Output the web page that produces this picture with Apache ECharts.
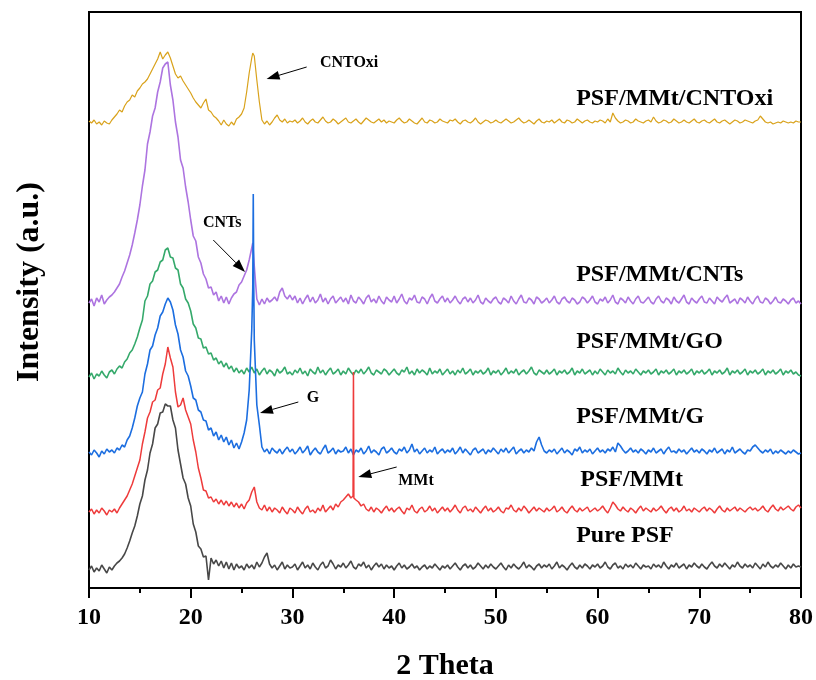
<!DOCTYPE html>
<html>
<head>
<meta charset="utf-8">
<script src="https://cdn.jsdelivr.net/npm/echarts@6/dist/echarts.min.js"></script>
<style>html,body{margin:0;padding:0;background:#fff}#c{width:816px;height:680px}</style>
</head>
<body>
<div id="c"></div>
<script>
// ---------- DATA (intensity in a.u., 2-theta sampled from 10 to 80 every 0.25 deg) ----------
const thetaTicks = [10, 20, 30, 40, 50, 60, 70, 80];
const sampleNames = ['PSF/MMt/CNTOxi', 'PSF/MMt/CNTs', 'PSF/MMt/GO', 'PSF/MMt/G', 'PSF/MMt', 'Pure PSF'];
const peakNames = ['CNTOxi', 'CNTs', 'G', 'MMt'];

const cntoxi = [
467,465,468,464,466,463,467,465,464,468,471,474,478,476,482,486,488,493,491,497,
500,504,506,509,514,519,524,529,536,529,533,536,530,522,514,510,512,507,503,499,
495,490,486,483,480,485,489,478,476,472,470,467,463,468,464,462,466,463,469,471,
474,480,496,515,530,532,508,486,468,464,467,463,466,470,473,468,466,469,465,467,
466,468,465,467,470,466,464,467,469,466,465,468,471,467,465,466,469,467,464,466,
468,470,466,465,467,469,466,464,467,470,468,466,465,467,469,466,468,465,467,466,
465,468,470,467,465,466,469,467,465,464,467,470,466,465,468,467,465,466,469,467,
466,465,468,467,469,466,464,467,468,466,465,467,470,466,464,466,468,467,465,466,
468,466,465,467,469,467,465,466,468,470,467,465,466,468,466,464,467,469,466,465,
467,466,468,465,467,469,466,465,468,467,465,466,469,467,465,467,468,466,465,467,
466,468,467,465,469,466,475,470,467,465,466,468,467,465,466,469,467,466,465,467,
468,466,471,467,465,466,468,467,465,466,469,467,465,466,468,466,465,467,469,466,
465,467,468,466,465,467,469,466,465,467,468,466,464,466,468,467,465,466,468,467,
466,465,467,468,472,469,466,465,466,464,465,466,465,467,466,465,466,465,467,466,466];
const cntoxiPeaks = [[26.1, 535]];

const cnts = [
285,289,282,290,286,293,284,288,291,293,296,300,304,311,317,325,333,343,355,368,
383,402,418,444,456,472,480,496,506,520,524,526,503,488,466,451,428,420,401,386,
368,352,347,331,325,314,309,300,301,293,296,287,292,285,291,284,290,294,296,303,
306,312,318,328,340,322,289,283,289,284,290,286,288,291,287,296,300,292,289,293,
288,292,285,290,284,289,293,286,291,285,288,294,286,290,284,289,292,285,288,291,
286,290,284,293,287,285,291,288,284,290,293,286,289,285,292,287,284,291,288,286,
292,285,289,294,287,284,290,288,293,286,285,291,289,284,290,294,287,285,289,292,
286,290,285,288,292,287,284,289,291,286,290,285,288,293,286,284,290,287,285,289,
291,286,284,290,288,285,292,287,284,289,293,286,285,290,288,284,291,289,285,287,
290,285,288,292,286,284,289,291,287,285,290,288,284,286,291,289,285,288,292,286,
284,289,287,291,285,288,293,286,284,290,288,285,291,287,284,289,292,286,285,288,
291,286,284,289,292,287,285,290,288,284,291,287,285,289,293,286,284,290,287,285,
289,292,286,285,290,287,284,291,288,286,290,293,285,287,289,284,290,288,285,291,
287,284,289,292,286,285,290,288,284,287,291,286,285,289,287,284,288,290,285,287,284];
const cntsPeaks = [[26.1, 345]];

const go = [
211,215,209,214,212,217,213,210,216,218,214,219,222,220,226,229,235,238,244,251,
260,268,287,292,304,307,316,318,326,328,338,340,331,330,320,318,304,300,289,285,
277,264,260,250,249,240,241,234,235,228,230,224,227,221,225,219,222,216,220,215,
218,214,220,216,221,215,219,213,217,220,214,218,216,212,219,215,217,221,214,216,
213,218,215,220,214,217,212,219,216,214,221,215,218,213,217,220,214,216,219,213,
217,214,220,216,213,218,215,219,214,217,221,215,213,218,216,214,219,217,213,216,
219,215,213,218,216,221,214,217,213,219,215,218,216,213,220,214,217,215,219,213,
216,219,214,217,213,218,215,220,214,216,219,213,217,215,218,214,216,220,213,217,
215,218,213,216,220,214,217,215,219,213,216,218,214,217,221,215,213,218,216,214,
218,214,216,219,213,217,215,218,214,216,220,213,217,215,219,214,216,218,213,217,
214,219,216,213,218,215,217,214,220,216,213,218,215,217,214,219,216,213,217,215,
218,214,216,219,213,217,215,218,214,216,219,213,217,215,218,214,216,219,213,217,
215,218,214,216,219,213,217,215,218,214,216,220,213,217,215,218,214,216,219,213,
217,215,218,214,216,219,213,217,215,218,214,216,219,213,217,215,218,214,216,213,212];

const graphene = [
136,133,138,135,131,137,134,139,136,138,135,140,138,143,141,148,152,160,170,182,
190,196,214,224,238,242,253,260,272,276,284,290,286,278,263,254,238,231,217,212,
202,190,188,178,176,168,167,158,160,152,156,148,153,146,151,143,148,140,145,139,
146,155,168,198,258,248,183,163,141,136,139,134,140,137,135,139,134,138,141,136,
139,134,137,141,135,138,142,133,137,140,136,134,139,143,135,137,140,134,138,136,
137,141,135,139,133,138,136,140,134,137,142,135,138,136,133,139,141,135,137,140,
136,134,139,137,141,135,138,144,136,139,134,137,140,135,138,136,141,134,137,139,
135,138,136,140,134,137,141,135,139,136,133,138,140,135,137,139,134,138,136,140,
137,134,139,136,140,135,138,141,134,137,139,135,138,136,140,137,146,151,143,137,
135,138,136,139,134,137,140,135,138,136,133,139,137,141,135,138,136,139,134,137,
140,136,138,135,139,137,141,136,145,142,138,135,137,140,136,138,135,139,137,134,
138,136,140,135,137,139,134,138,141,136,137,135,139,136,138,134,137,140,136,138,
135,139,137,134,138,136,140,135,137,139,134,138,136,141,135,137,139,136,134,138,
137,141,143,140,137,135,138,136,139,134,137,135,138,136,134,137,135,138,136,134,135];
const graphenePeaks = [[26.1, 300], [26.15, 394], [26.2, 300]];

const mmt = [
76,79,74,78,75,80,77,73,78,76,79,75,80,84,88,92,98,104,112,120,
128,144,156,170,176,186,188,198,200,214,224,241,230,221,196,181,183,190,178,171,
164,148,136,120,110,98,97,90,91,86,89,84,88,83,87,82,86,81,85,80,
84,79,85,88,96,101,86,80,78,83,77,81,76,80,78,75,81,77,74,80,
78,75,81,77,74,79,82,76,78,75,80,77,83,76,79,82,78,84,81,86,
88,91,94,90,216,88,86,82,84,79,77,81,76,80,78,75,79,82,77,80,
76,79,81,77,74,80,78,83,77,75,79,81,76,78,82,77,80,75,78,81,
77,80,76,79,83,78,75,80,82,77,79,76,81,78,75,79,82,77,80,76,
78,81,77,75,80,79,83,78,76,80,77,82,79,75,78,81,77,80,78,76,
80,77,79,82,76,78,81,77,75,79,82,78,76,80,77,79,81,76,78,80,
77,79,82,78,75,80,86,83,79,77,81,78,76,80,78,75,79,82,77,80,
78,76,80,77,79,82,78,75,79,81,77,80,76,78,82,77,79,76,80,78,
76,79,81,77,80,78,75,79,82,78,76,80,77,79,81,77,80,78,76,79,
81,78,80,77,79,82,78,76,80,83,79,77,81,78,80,82,79,77,81,83,80];
const mmtPeaks = [[35.96, 92], [36.04, 90]];

const purePsf = [
18,22,16,20,17,23,19,15,21,18,22,25,27,30,34,40,47,55,62,72,
84,92,108,118,135,144,160,164,175,176,184,182,182,168,160,138,124,110,104,90,
82,64,56,42,39,31,32,8,30,24,28,22,27,20,26,19,25,18,24,20,
22,18,24,20,23,19,26,21,25,31,35,24,20,23,18,22,26,19,23,20,
21,24,18,22,26,20,23,19,25,21,18,23,26,20,22,28,24,19,23,21,
25,20,23,27,21,19,24,22,26,20,23,18,22,25,21,24,19,23,20,22,
18,22,25,20,23,19,21,24,20,22,18,21,23,19,22,20,24,21,18,22,
20,23,19,22,25,21,18,22,24,20,23,19,21,25,22,19,23,20,24,21,
19,22,25,21,18,23,20,24,21,19,22,26,20,23,21,18,22,24,20,23,
21,24,19,22,26,20,23,21,18,22,25,21,19,23,20,24,22,19,23,21,
24,20,22,26,21,19,23,25,20,22,19,24,21,23,20,25,22,19,23,21,
22,19,24,21,23,20,26,22,19,23,21,25,20,22,24,19,23,21,25,22,
20,24,21,19,23,26,22,20,24,21,25,22,19,23,21,26,22,20,24,21,
23,20,25,22,19,24,21,26,22,20,23,21,25,22,19,23,20,24,21,22,21];

// ---------- LAYOUT / STYLE ----------
const thetaStart = 10, thetaStep = 0.25;
const FONT = "'Liberation Serif','Times New Roman',serif";
const colors = ['#D9A21B', '#AD74E0', '#35A96B', '#1C6EE0', '#EE3B3B', '#484848'];
const widths = [1.2, 1.6, 1.6, 1.6, 1.5, 1.6];
// positions of text annotations in data coordinates [theta, intensity]
const sampleLabelPos = [[57.9, 489], [57.9, 313], [57.9, 246], [57.9, 171], [58.3, 108], [57.9, 52]];
const peakLabelPos = [[32.7, 525.5], [21.2, 365.5], [31.4, 190.5], [40.4, 107]];
const arrowPos = [
  [[31.4, 521], [27.46, 509]],
  [[22.22, 348], [25.34, 316]],
  [[30.58, 186], [26.81, 175]],
  [[40.25, 121], [36.48, 111]]
];

function toPairs(vals, extras) {
  const pts = vals.map((v, i) => [thetaStart + i * thetaStep, v]);
  if (extras) pts.push(...extras);
  pts.sort((a, b) => a[0] - b[0]);
  return pts;
}

const seriesData = [
  toPairs(cntoxi, cntoxiPeaks),
  toPairs(cnts, cntsPeaks),
  toPairs(go),
  toPairs(graphene, graphenePeaks),
  toPairs(mmt, mmtPeaks),
  toPairs(purePsf)
];
// drawing order (bottom -> top)
const order = [0, 1, 2, 5, 3, 4];

const chart = echarts.init(document.getElementById('c'), null, {renderer: 'canvas'});
const option = {
  animation: false,
  backgroundColor: '#fff',
  grid: {left: 89, right: 15, top: 12, bottom: 92, show: true, borderColor: '#000', borderWidth: 2, backgroundColor: 'transparent'},
  xAxis: {
    type: 'value', min: 10, max: 80, interval: 10,
    axisLine: {show: true, onZero: false, lineStyle: {color: '#000', width: 2}},
    axisTick: {show: true, inside: false, length: 10, lineStyle: {color: '#000', width: 2}},
    minorTick: {show: true, splitNumber: 2, length: 5, lineStyle: {color: '#000', width: 2}},
    splitLine: {show: false},
    axisLabel: {
      margin: 18, color: '#000', fontFamily: FONT, fontWeight: 'bold', fontSize: 24,
      formatter: v => (thetaTicks.indexOf(v) >= 0 ? String(v) : '')
    }
  },
  yAxis: {
    type: 'value', min: 0, max: 576,
    axisLine: {show: true, lineStyle: {color: '#000', width: 2}},
    axisTick: {show: false}, axisLabel: {show: false}, splitLine: {show: false}
  },
  series: order.map(k => ({
    name: sampleNames[k], type: 'line', data: seriesData[k], showSymbol: false, symbol: 'none',
    z: 2, lineStyle: {color: colors[k], width: widths[k]}, itemStyle: {color: colors[k]}, sampling: null
  }))
};
chart.setOption(option);

// text + arrows positioned via the chart's own coordinate system
const g = [];
sampleNames.forEach((name, i) => {
  const p = chart.convertToPixel({gridIndex: 0}, sampleLabelPos[i]);
  g.push({type: 'text', x: p[0], y: p[1], z: 10,
    style: {text: name, font: "bold 24px " + FONT, fill: '#000', textAlign: 'left', textVerticalAlign: 'middle'}});
});
peakNames.forEach((name, i) => {
  const p = chart.convertToPixel({gridIndex: 0}, peakLabelPos[i]);
  g.push({type: 'text', x: p[0], y: p[1], z: 10,
    style: {text: name, font: "bold 16px " + FONT, fill: '#000', textAlign: 'left', textVerticalAlign: 'middle'}});
});
arrowPos.forEach(a => {
  const t = chart.convertToPixel({gridIndex: 0}, a[0]);
  const h = chart.convertToPixel({gridIndex: 0}, a[1]);
  const dx = h[0] - t[0], dy = h[1] - t[1];
  const L = Math.hypot(dx, dy), ux = dx / L, uy = dy / L;
  const hl = 13, hw = 4.5;
  const bx = h[0] - ux * hl, by = h[1] - uy * hl;
  g.push({type: 'line', z: 10, shape: {x1: t[0], y1: t[1], x2: bx, y2: by}, style: {stroke: '#000', lineWidth: 1}});
  g.push({type: 'polygon', z: 10, shape: {points: [[h[0], h[1]], [bx - uy * hw, by + ux * hw], [bx + uy * hw, by - ux * hw]]},
    style: {fill: '#000'}});
});
g.push({type: 'text', x: 445, y: 666, z: 10,
  style: {text: '2 Theta', font: "bold 30px " + FONT, fill: '#000', textAlign: 'center', textVerticalAlign: 'middle'}});
g.push({type: 'text', x: 30, y: 282, rotation: Math.PI / 2, z: 10,
  style: {text: 'Intensity (a.u.)', font: "bold 32px " + FONT, fill: '#000', textAlign: 'center', textVerticalAlign: 'middle'}});
chart.setOption({graphic: g});
</script>
</body>
</html>
